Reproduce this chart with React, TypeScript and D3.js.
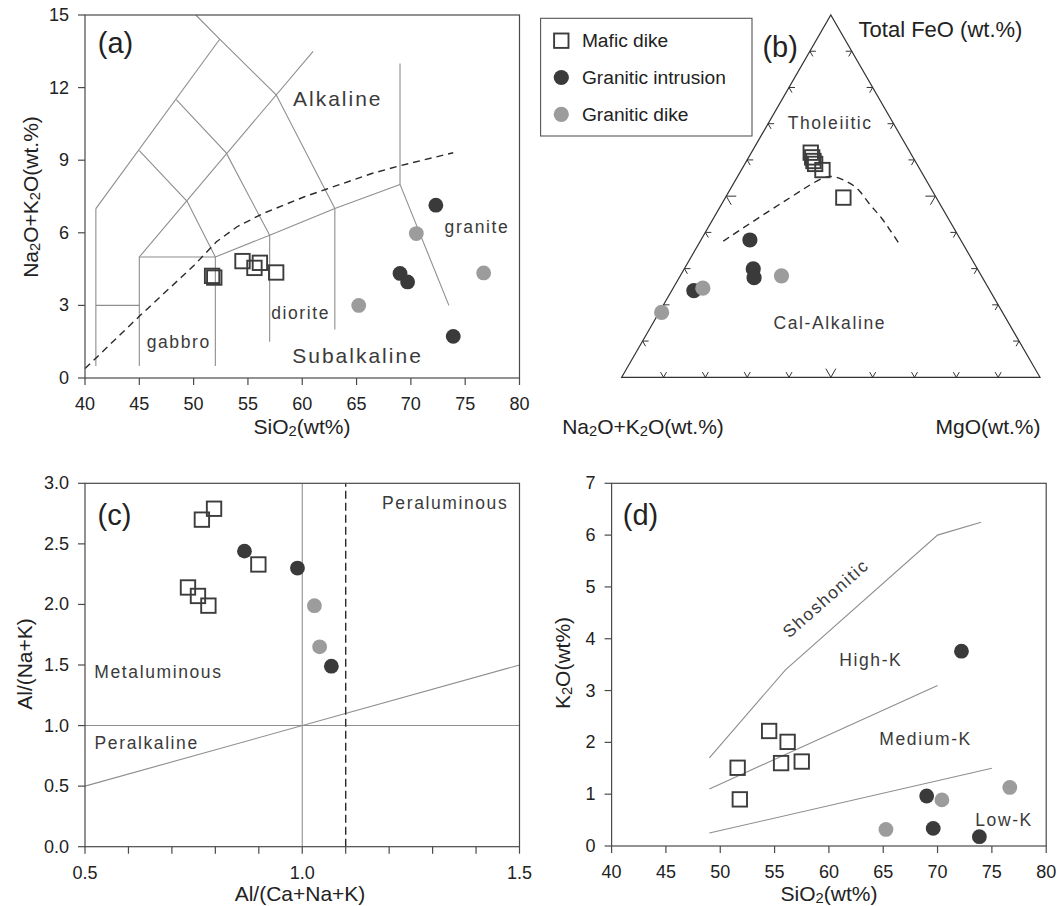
import React from "react";
import * as d3 from "d3";

const FONT = "'Liberation Sans', Arial, Helvetica, sans-serif";
const INK = "#222";
const LBL = "#3a3a3a";
const FIELD = "#8e8e8e";
const AXIS = "#4a4a4a";
const SQ = "#3c3c3c";
const DARK = "#3a3a3a";
const LIGHT = "#9c9c9c";

// ---------- (a) TAS ----------
const tasMafic = [[51.7, 4.22], [51.9, 4.15], [54.5, 4.83], [55.6, 4.55], [56.1, 4.76], [57.6, 4.36]];
const tasIntrusion = [[72.3, 7.14], [69.0, 4.32], [69.7, 3.97], [73.9, 1.72]];
const tasDike = [[70.5, 5.97], [65.2, 3.0], [76.7, 4.34]];
const tasFields = [
  [[41, 0.5], [41, 7]],
  [[41, 3], [45, 3]],
  [[45, 0.5], [45, 5], [52, 5], [52, 0.5]],
  [[41, 7], [52.4, 14]],
  [[45, 5], [61, 13.5]],
  [[52, 5], [49.4, 7.3], [45, 9.4]],
  [[57, 5.9], [53, 9.3], [48.4, 11.5]],
  [[63, 7], [57.6, 11.7], [52.4, 14], [50.2, 15]],
  [[57, 1.5], [57, 5.9]],
  [[52, 5], [57, 5.9], [63, 7], [69, 8]],
  [[63, 2], [63, 7]],
  [[69, 8], [69, 13]],
  [[69, 8], [73.5, 3]],
];
const tasDivide = [[40, 0.39], [45, 2.55], [50.05, 4.66], [52.1, 5.63], [54, 6.25], [56.4, 6.8], [60.2, 7.49], [62.2, 7.8], [66.4, 8.45], [69, 8.77], [73.9, 9.31]];
const tasXTicks = [40, 45, 50, 55, 60, 65, 70, 75, 80];
const tasYTicks = [0, 3, 6, 9, 12, 15];

// ---------- (b) AFM, [A, F, M] % ----------
const afmMafic = [[23.8, 62.0, 14.2], [24.1, 60.7, 15.2], [24.3, 59.7, 16.0], [24.3, 58.9, 16.8], [23.4, 57.2, 19.4], [22.2, 49.6, 28.2]];
const afmIntrusion = [[50.4, 37.9, 11.7], [53.6, 29.9, 16.5], [54.6, 27.5, 17.9], [70.8, 23.9, 5.3]];
const afmDike = [[47.8, 28.0, 24.2], [68.3, 24.6, 7.1], [81.5, 17.9, 0.6]];
const afmDivide = [[56.9, 37.6, 5.5], [36.6, 48.7, 14.7], [24.3, 55.0, 20.7], [22.0, 55.4, 22.6], [19.8, 54.5, 25.7], [17.7, 52.2, 30.1], [16.8, 47.6, 35.6], [15.9, 43.9, 40.2], [15.2, 36.5, 48.3]];
const afmTicks = [10, 20, 30, 40, 50, 60, 70, 80, 90];

// ---------- (c) A/CNK vs A/NK ----------
const acnkMafic = [[0.769, 2.70], [0.797, 2.79], [0.899, 2.33], [0.737, 2.14], [0.760, 2.07], [0.784, 1.99]];
const acnkIntrusion = [[0.867, 2.44], [0.989, 2.30], [1.067, 1.49]];
const acnkDike = [[1.028, 1.99], [1.040, 1.65]];
const acnkXTicks = [0.5, 0.6, 0.7, 0.8, 0.9, 1.0, 1.1, 1.2, 1.3, 1.4, 1.5];
const acnkXLabels = [0.5, 1.0, 1.5];
const acnkYTicks = [0, 0.5, 1.0, 1.5, 2.0, 2.5, 3.0];

// ---------- (d) SiO2 vs K2O ----------
const kMafic = [[51.6, 1.51], [51.8, 0.90], [54.5, 2.22], [56.2, 2.01], [55.6, 1.60], [57.5, 1.63]];
const kIntrusion = [[72.2, 3.76], [69.0, 0.965], [69.6, 0.34], [73.85, 0.18]];
const kDike = [[70.4, 0.89], [65.25, 0.32], [76.65, 1.13]];
const kShoshonitic = [[49, 1.7], [56, 3.4], [70, 6.0], [74, 6.25]];
const kHighK = [[49, 1.1], [70, 3.1]];
const kLowK = [[49, 0.25], [75, 1.5]];
const kXTicks = [40, 45, 50, 55, 60, 65, 70, 75, 80];
const kYTicks = [0, 1, 2, 3, 4, 5, 6, 7];

const legendItems = ["Mafic dike", "Granitic intrusion", "Granitic dike"];

type Part = string | { sub: string };

function Rich({ x, y, parts, size, anchor = "middle", rotate = 0, fill = INK }: any) {
  const shift = size * 0.24;
  let down = false;
  const out = (parts as Part[]).map((p, i) => {
    if (typeof p === "string") {
      const el = <tspan key={i} dy={down ? -shift : 0}>{p}</tspan>;
      down = false;
      return el;
    }
    down = true;
    return <tspan key={i} fontSize={size * 0.7} dy={shift}>{p.sub}</tspan>;
  });
  return (
    <text x={x} y={y} fontSize={size} fill={fill} textAnchor={anchor} dominantBaseline="central"
      transform={rotate ? `rotate(${rotate},${x},${y})` : undefined}>
      {out}
    </text>
  );
}

function Square({ x, y }: any) {
  return <rect x={x - 7.2} y={y - 7.2} width={14.4} height={14.4} fill="none" stroke={SQ} strokeWidth={1.9} />;
}

function Frame({ xs, ys, xTicks, yTicks, xLabels, fmtX, fmtY }: any) {
  const [x0, x1] = xs.range();
  const [y0, y1] = ys.range();
  return (
    <g>
      <rect x={x0} y={y1} width={x1 - x0} height={y0 - y1} fill="none" stroke={AXIS} strokeWidth={1.2} />
      {xTicks.map((t: number) => (
        <line key={"x" + t} x1={xs(t)} x2={xs(t)} y1={y0} y2={y0 + 7} stroke={AXIS} strokeWidth={1.2} />
      ))}
      {(xLabels || xTicks).map((t: number) => (
        <text key={"xl" + t} x={xs(t)} y={y0 + 26} fontSize={18} fill={INK} textAnchor="middle" dominantBaseline="central">{fmtX(t)}</text>
      ))}
      {yTicks.map((t: number) => (
        <g key={"y" + t}>
          <line x1={x0 - 7} x2={x0} y1={ys(t)} y2={ys(t)} stroke={AXIS} strokeWidth={1.2} />
          <text x={x0 - 16} y={ys(t)} fontSize={18} fill={INK} textAnchor="end" dominantBaseline="central">{fmtY(t)}</text>
        </g>
      ))}
    </g>
  );
}

function Points({ xs, ys, mafic, intrusion, dike }: any) {
  return (
    <g>
      {mafic.map((d: number[], i: number) => <Square key={"s" + i} x={xs(d[0])} y={ys(d[1])} />)}
      {intrusion.map((d: number[], i: number) => <circle key={"i" + i} cx={xs(d[0])} cy={ys(d[1])} r={7.4} fill={DARK} />)}
      {dike.map((d: number[], i: number) => <circle key={"d" + i} cx={xs(d[0])} cy={ys(d[1])} r={7.4} fill={LIGHT} />)}
    </g>
  );
}

export default function App() {
  // (a)
  const aX = d3.scaleLinear().domain([40, 80]).range([85, 519.5]);
  const aY = d3.scaleLinear().domain([0, 15]).range([378, 15]);
  const aLine = d3.line<number[]>().x((d) => aX(d[0])).y((d) => aY(d[1]));

  // (b)
  const T = [830.8, 15], BL = [621.7, 377.3], BR = [1040, 377.3];
  const tern = (d: number[]) => {
    const s = d[0] + d[1] + d[2];
    return [(BL[0] * d[0] + T[0] * d[1] + BR[0] * d[2]) / s, (BL[1] * d[0] + T[1] * d[1] + BR[1] * d[2]) / s];
  };
  const bLine = d3.line<number[]>().x((d) => tern(d)[0]).y((d) => tern(d)[1]).curve(d3.curveCatmullRom);
  const unit = (a: number[], b: number[]) => {
    const dx = b[0] - a[0], dy = b[1] - a[1], l = Math.hypot(dx, dy);
    return [dx / l, dy / l];
  };
  const chevrons: any[] = [];
  afmTicks.forEach((p) => {
    const len = p === 50 ? 10 : 6;
    const bottom = tern([100 - p, 0, p]);
    const left = tern([100 - p, p, 0]);
    const right = tern([0, p, 100 - p]);
    const sets = [
      [bottom, unit(BL, T), unit(BR, T)],
      [left, [1, 0], unit(T, BR)],
      [right, [-1, 0], unit(T, BL)],
    ];
    sets.forEach(([pt, u1, u2]: any, k) => {
      chevrons.push(
        <path key={p + "-" + k}
          d={`M${pt[0] + u1[0] * len},${pt[1] + u1[1] * len}L${pt[0]},${pt[1]}L${pt[0] + u2[0] * len},${pt[1] + u2[1] * len}`}
          fill="none" stroke="#333" strokeWidth={1} />
      );
    });
  });
  const thol = tern([15, 70.3, 14.7]);
  const calk = tern([42.7, 15.1, 42.2]);

  // (c)
  const cX = d3.scaleLinear().domain([0.5, 1.5]).range([85, 519.5]);
  const cY = d3.scaleLinear().domain([0, 3]).range([846.7, 483.3]);

  // (d)
  const dX = d3.scaleLinear().domain([40, 80]).range([611.6, 1046.2]);
  const dY = d3.scaleLinear().domain([0, 7]).range([846, 483.3]);
  const dLine = d3.line<number[]>().x((d) => dX(d[0])).y((d) => dY(d[1]));

  const big = { fontSize: 21, letterSpacing: 2, fill: LBL };
  const small = { fontSize: 17.5, letterSpacing: 1.6, fill: LBL };
  const TITLE = 21;

  return (
    <svg width={1059} height={906} style={{ position: "absolute", left: 0, top: 0, background: "#fff" }} fontFamily={FONT}>
      {/* ---------- (a) ---------- */}
      <g>
        {tasFields.map((s, i) => <path key={i} d={aLine(s) || ""} fill="none" stroke={FIELD} strokeWidth={1.1} />)}
        <path d={aLine(tasDivide) || ""} fill="none" stroke="#2a2a2a" strokeWidth={1.4} strokeDasharray="7,5" />
        <Frame xs={aX} ys={aY} xTicks={tasXTicks} yTicks={tasYTicks} fmtX={(t: number) => t} fmtY={(t: number) => t} />
        <Points xs={aX} ys={aY} mafic={tasMafic} intrusion={tasIntrusion} dike={tasDike} />
        <text x={aX(41.18)} y={aY(13.83)} fontSize={29} fill={INK} dominantBaseline="central">(a)</text>
        <text x={aX(63.27)} y={aY(11.56)} {...big} textAnchor="middle" dominantBaseline="central">Alkaline</text>
        <text x={aX(65.09)} y={aY(0.91)} {...big} textAnchor="middle" dominantBaseline="central">Subalkaline</text>
        <text x={aX(76.08)} y={aY(6.25)} {...small} textAnchor="middle" dominantBaseline="central">granite</text>
        <text x={aX(59.85)} y={aY(2.67)} {...small} textAnchor="middle" dominantBaseline="central">diorite</text>
        <text x={aX(48.63)} y={aY(1.5)} {...small} textAnchor="middle" dominantBaseline="central">gabbro</text>
        <Rich x={302} y={426} size={TITLE} parts={["SiO", { sub: "2" }, "(wt%)"]} />
        <Rich x={30} y={197} size={TITLE} rotate={-90} parts={["Na", { sub: "2" }, "O+K", { sub: "2" }, "O(wt.%)"]} />
      </g>

      {/* ---------- (b) ---------- */}
      <g>
        <path d={`M${BL[0]},${BL[1]}L${T[0]},${T[1]}L${BR[0]},${BR[1]}Z`} fill="none" stroke="#333" strokeWidth={1.2} />
        {chevrons}
        <path d={bLine(afmDivide) || ""} fill="none" stroke="#2a2a2a" strokeWidth={1.4} strokeDasharray="7,5" />
        {afmMafic.map((d, i) => { const p = tern(d); return <Square key={"bs" + i} x={p[0]} y={p[1]} />; })}
        {afmIntrusion.map((d, i) => { const p = tern(d); return <circle key={"bi" + i} cx={p[0]} cy={p[1]} r={7.6} fill={DARK} />; })}
        {afmDike.map((d, i) => { const p = tern(d); return <circle key={"bd" + i} cx={p[0]} cy={p[1]} r={7.6} fill={LIGHT} />; })}
        <text x={thol[0]} y={thol[1]} {...small} textAnchor="middle" dominantBaseline="central">Tholeiitic</text>
        <text x={calk[0]} y={calk[1]} {...small} textAnchor="middle" dominantBaseline="central">Cal-Alkaline</text>
        <text x={762.4} y={46.7} fontSize={29} fill={INK} dominantBaseline="central">(b)</text>
        <text x={858.6} y={29.3} fontSize={22} fill={INK} dominantBaseline="central">Total FeO (wt.%)</text>
        <Rich x={643} y={426} size={TITLE} parts={["Na", { sub: "2" }, "O+K", { sub: "2" }, "O(wt.%)"]} />
        <Rich x={988} y={426} size={TITLE} parts={["MgO(wt.%)"]} />
        {/* legend */}
        <rect x={540.6} y={18.3} width={211.4} height={117.7} fill="#fff" stroke="#555" strokeWidth={1.1} />
        {legendItems.map((name, i) => {
          const y = 40.7 + i * 36.8;
          return (
            <g key={name}>
              {i === 0 ? <Square x={561.3} y={y} /> : <circle cx={561.3} cy={y} r={7.6} fill={i === 1 ? DARK : LIGHT} />}
              <text x={581.9} y={y} fontSize={19.2} fill={INK} dominantBaseline="central">{name}</text>
            </g>
          );
        })}
      </g>

      {/* ---------- (c) ---------- */}
      <g>
        <line x1={cX(1.0)} x2={cX(1.0)} y1={cY(0)} y2={cY(3)} stroke={FIELD} strokeWidth={1.1} />
        <line x1={cX(0.5)} x2={cX(1.5)} y1={cY(1)} y2={cY(1)} stroke={FIELD} strokeWidth={1.1} />
        <line x1={cX(0.5)} x2={cX(1.5)} y1={cY(0.5)} y2={cY(1.5)} stroke={FIELD} strokeWidth={1.1} />
        <line x1={cX(1.1)} x2={cX(1.1)} y1={cY(0)} y2={cY(3)} stroke="#2a2a2a" strokeWidth={1.4} strokeDasharray="8,4" />
        <Frame xs={cX} ys={cY} xTicks={acnkXTicks} xLabels={acnkXLabels} yTicks={acnkYTicks}
          fmtX={(t: number) => t.toFixed(1)} fmtY={(t: number) => t.toFixed(1)} />
        <Points xs={cX} ys={cY} mafic={acnkMafic} intrusion={acnkIntrusion} dike={acnkDike} />
        <text x={cX(0.529)} y={cY(2.738)} fontSize={29} fill={INK} dominantBaseline="central">(c)</text>
        <text x={cX(1.329)} y={cY(2.84)} {...small} textAnchor="middle" dominantBaseline="central">Peraluminous</text>
        <text x={cX(0.669)} y={cY(1.44)} {...small} textAnchor="middle" dominantBaseline="central">Metaluminous</text>
        <text x={cX(0.642)} y={cY(0.854)} {...small} textAnchor="middle" dominantBaseline="central">Peralkaline</text>
        <Rich x={300} y={893} size={TITLE} parts={["Al/(Ca+Na+K)"]} />
        <Rich x={24} y={664} size={TITLE} rotate={-90} parts={["Al/(Na+K)"]} />
      </g>

      {/* ---------- (d) ---------- */}
      <g>
        {[kShoshonitic, kHighK, kLowK].map((s, i) => <path key={i} d={dLine(s) || ""} fill="none" stroke={FIELD} strokeWidth={1.1} />)}
        <Frame xs={dX} ys={dY} xTicks={kXTicks} yTicks={kYTicks} fmtX={(t: number) => t} fmtY={(t: number) => t} />
        <Points xs={dX} ys={dY} mafic={kMafic} intrusion={kIntrusion} dike={kDike} />
        <text x={dX(41.03)} y={dY(6.39)} fontSize={29} fill={INK} dominantBaseline="central">(d)</text>
        <text x={dX(59.71)} y={dY(4.78)} {...small} textAnchor="middle" dominantBaseline="central"
          transform={`rotate(-41.6,${dX(59.71)},${dY(4.78)})`}>Shoshonitic</text>
        <text x={dX(63.86)} y={dY(3.59)} {...small} textAnchor="middle" dominantBaseline="central">High-K</text>
        <text x={dX(68.9)} y={dY(2.06)} {...small} textAnchor="middle" dominantBaseline="central">Medium-K</text>
        <text x={dX(76.12)} y={dY(0.5)} {...small} textAnchor="middle" dominantBaseline="central">Low-K</text>
        <Rich x={829} y={893} size={TITLE} parts={["SiO", { sub: "2" }, "(wt%)"]} />
        <Rich x={562} y={663} size={TITLE} rotate={-90} parts={["K", { sub: "2" }, "O(wt%)"]} />
      </g>
    </svg>
  );
}
